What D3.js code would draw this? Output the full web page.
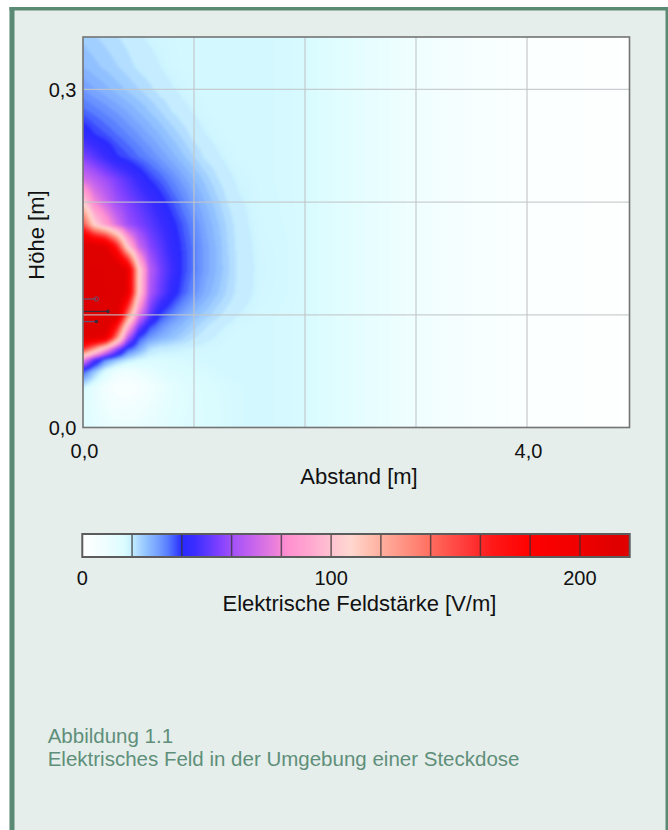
<!DOCTYPE html>
<html>
<head>
<meta charset="utf-8">
<script src="https://cdn.jsdelivr.net/npm/d3@7"></script>
<style>
  html, body { margin: 0; padding: 0; background: #ffffff; }
  svg { display: block; }
  text { font-family: "Liberation Sans", Arial, Helvetica, sans-serif; }
</style>
</head>
<body>
<svg id="chart" width="668" height="830"></svg>
<script>
// ---------- data ----------
// distance from the wall [m] (grid columns)
const distances = [0, 0.1, 0.2, 0.3, 0.4, 0.5, 0.6, 0.7, 0.8, 0.9, 1.0, 1.1, 1.2, 1.3, 1.4, 1.6, 2.0, 2.5, 3.0, 3.5, 4.0, 5.0];
// height above the floor [m] (grid rows, bottom to top)
const heights = [0, 0.02, 0.035, 0.05, 0.06, 0.07, 0.08, 0.09, 0.10, 0.12, 0.14, 0.16, 0.18, 0.20, 0.22, 0.24, 0.26, 0.28, 0.30, 0.32, 0.35];
// electric field strength [V/m], one row per height, one value per distance
const fieldStrength = [
  [15, 14, 12.5, 11.5, 11, 11.5, 12.5, 13.5, 14.5, 15.5, 16, 16.5, 17, 17.5, 17.8, 18, 17.5, 13, 9, 5, 2.5, 0.5],
  [15.5, 13, 10, 7.5, 7, 8.5, 10.5, 12.5, 14, 15, 16, 16.6, 17, 17.5, 17.8, 18, 17.5, 13, 9, 5, 2.5, 0.5],
  [18, 13, 8, 4, 3, 5, 8, 11, 13.5, 15, 16, 16.7, 17.2, 17.6, 17.8, 18, 17.5, 13, 9, 5, 2.5, 0.5],
  [38, 26, 17, 11, 9, 11, 13, 15, 16, 16.7, 17.2, 17.5, 17.8, 18, 18, 18, 17.5, 13, 9, 5, 2.5, 0.5],
  [80, 50, 33, 26, 21, 18, 17, 17, 17.3, 17.6, 17.8, 18, 18, 18, 18, 18, 17.5, 13, 9, 5, 2.5, 0.5],
  [160, 130, 95, 62, 38, 30, 22, 20, 19.5, 19, 18.5, 18.3, 18.2, 18, 18, 18, 17.5, 13, 9, 5, 2.5, 0.5],
  [215, 212, 205, 137, 68, 38.6, 31.4, 28.1, 25.8, 23.5, 21.2, 19.6, 18.9, 18.2, 18, 18, 17.5, 13, 9, 5, 2.5, 0.5],
  [240, 235, 228, 174, 98, 55.6, 38.3, 32.8, 28.8, 26.3, 23.8, 21.3, 19.6, 18.9, 18.2, 18, 17.5, 13, 9, 5, 2.5, 0.5],
  [250, 246, 240, 225, 137, 77, 52, 38.2, 33.6, 29.5, 26.3, 24.2, 21.8, 20, 19, 18, 17.5, 13, 9, 5, 2.5, 0.5],
  [258, 254, 248, 236, 205, 108, 63, 51.8, 42.7, 36.8, 32.3, 28.6, 25.6, 22.6, 20.2, 18.4, 17.5, 13, 9, 5, 2.5, 0.5],
  [255, 250, 245, 235, 205, 110, 65.7, 53.6, 45.6, 38.7, 34.3, 30.2, 27, 23.6, 20.4, 18.5, 17.5, 13, 9, 5, 2.5, 0.5],
  [230, 225, 215, 170, 105, 71, 56.7, 50, 43.3, 38.3, 34.2, 30.2, 26.8, 23.2, 20.2, 18.4, 17.5, 13, 9, 5, 2.5, 0.5],
  [150, 107, 89, 73.3, 60, 55.2, 50.5, 45.7, 41, 36.8, 32.8, 29, 25.8, 22.6, 19.8, 18.2, 17.5, 13, 9, 5, 2.5, 0.5],
  [105, 80, 70, 60, 55.3, 50.7, 46, 41.4, 37.4, 33.7, 30, 27, 23.9, 20.9, 19.3, 18.1, 17.5, 13, 9, 5, 2.5, 0.5],
  [72, 66, 60, 54.7, 49.5, 44.2, 39.4, 36.3, 33.1, 30, 27.1, 24.3, 21.4, 19.6, 18.7, 18, 17.5, 13, 9, 5, 2.5, 0.5],
  [55, 50, 45, 40, 37.6, 35.2, 32.9, 30.5, 28, 25.5, 23, 20.5, 19.4, 18.6, 18.1, 18, 17.5, 13, 9, 5, 2.5, 0.5],
  [43, 39.4, 37.3, 35.2, 33.1, 31, 28.9, 26.7, 24.4, 22.2, 20, 19.1, 18.4, 18, 18, 18, 17.5, 13, 9, 5, 2.5, 0.5],
  [36, 34.3, 32.6, 30.9, 29, 27, 25, 23, 21, 19.6, 18.9, 18.2, 18, 18, 18, 18, 17.5, 13, 9, 5, 2.5, 0.5],
  [31, 29.2, 27.7, 26.2, 24.6, 23.1, 21.5, 20, 19.2, 18.6, 18.2, 18, 18, 18, 18, 18, 17.5, 13, 9, 5, 2.5, 0.5],
  [27, 25.7, 24.5, 23.2, 21.9, 20.5, 19.7, 19, 18.4, 18.1, 18, 18, 18, 18, 18, 18, 17.5, 13, 9, 5, 2.5, 0.5],
  [24, 23, 22, 21, 20, 19.2, 18.6, 18.3, 18.1, 18, 18, 18, 18, 18, 18, 18, 17.5, 13, 9, 5, 2.5, 0.5]
];
// socket leads drawn at the wall: height [m], length [m], end style
const leadHeights = [0.114, 0.103, 0.094];
const leadLengths = [0.12, 0.225, 0.12];
const leadEnds = ["open", "dot", "dot"];

const xTickValues = [0, 4];
const yTickValues = [0, 0.3];
const xGridValues = [1, 2, 3, 4];
const yGridValues = [0.1, 0.2, 0.3];
const xDomain = [0, 4.92];
const yDomain = [0, 0.3465];

// colour map: value stops and colours
const colorStops = [0, 10, 17, 19, 21, 23, 26, 30, 34, 37, 40, 45, 50, 55, 60, 67, 75, 82, 92, 100, 108, 115, 125, 135, 145, 155, 165, 180, 200, 215, 300];
const colorRamp = ["#ffffff", "#eefeff", "#dafcff", "#cdf4ff", "#bce6ff", "#aad6ff", "#90c0ff", "#78a4ff", "#5a80ff", "#4258ff", "#2a2aff", "#3a2cff", "#5a38ff", "#8040ff", "#a050f8", "#c060f0", "#e078e0", "#ff8ed0", "#ffa8d0", "#ffc2d0", "#ffd8d0", "#ffc0b0", "#ffa090", "#ff8070", "#ff5a50", "#ff3838", "#ff1818", "#ff0000", "#ef0000", "#e00000", "#dc0000"];
const legendBreaks = [0, 20, 40, 60, 80, 100, 120, 140, 160, 180, 200, 220];
const legendTickValues = [0, 100, 200];

const xTitle = "Abstand [m]";
const yTitle = "Höhe [m]";
const legendTitle = "Elektrische Feldstärke [V/m]";
const captionLines = ["Abbildung 1.1", "Elektrisches Feld in der Umgebung einer Steckdose"];

// ---------- drawing ----------
const svg = d3.select("#chart");
const fmt = d3.formatLocale({decimal: ",", thousands: ".", grouping: [3], currency: ["", " €"]}).format(".1f");

const plot = {left: 83, right: 629.5, top: 37, bottom: 427.5};
const x = d3.scaleLinear().domain(xDomain).range([plot.left, plot.left + (xDomain[1] - xDomain[0]) * 111]);
const y = d3.scaleLinear().domain(yDomain).range([plot.bottom, plot.top]);
const color = d3.scaleLinear().domain(colorStops).range(colorRamp).interpolate(d3.interpolateRgb).clamp(true);

// panel
const green = "#5a8a74";
svg.append("rect").attr("x", 9.5).attr("y", 7).attr("width", 668 - 9.5).attr("height", 830 - 7).attr("fill", "#e5eeeb");
svg.append("rect").attr("x", 9.5).attr("y", 7).attr("width", 5).attr("height", 823).attr("fill", green);
svg.append("rect").attr("x", 9.5).attr("y", 7).attr("width", 668 - 9.5).attr("height", 3.5).attr("fill", green);
svg.append("rect").attr("x", 665.5).attr("y", 7).attr("width", 2.5).attr("height", 823).attr("fill", green);

// field raster
function clamp(v, a, b) { return Math.max(a, Math.min(b, v)); }
function fieldAt(xv, yv) {
  const i = clamp(d3.bisectRight(distances, xv) - 1, 0, distances.length - 2);
  const j = clamp(d3.bisectRight(heights, yv) - 1, 0, heights.length - 2);
  const tx = clamp((xv - distances[i]) / (distances[i + 1] - distances[i]), 0, 1);
  const ty = clamp((yv - heights[j]) / (heights[j + 1] - heights[j]), 0, 1);
  const r0 = fieldStrength[j], r1 = fieldStrength[j + 1];
  const a = r0[i] * (1 - tx) + r0[i + 1] * tx;
  const b = r1[i] * (1 - tx) + r1[i + 1] * tx;
  return a * (1 - ty) + b * ty;
}
function banded(v) {
  if (v >= 19 && v < 40) return Math.floor((v - 19) / 2) * 2 + 20;
  return v;
}
const lut = d3.range(0, 3001).map(k => d3.rgb(color(k / 10)));
const px0 = Math.round(plot.left), py0 = Math.round(plot.top);
const W = Math.round(plot.right) - px0, H = Math.round(plot.bottom) - py0;
const PAD = 12;
const big = document.createElement("canvas");
big.width = W + 2 * PAD; big.height = H + 2 * PAD;
const bctx = big.getContext("2d");
const img = bctx.createImageData(big.width, big.height);
for (let py = 0; py < big.height; py++) {
  const yv = y.invert(py0 - PAD + py + 0.5);
  for (let px = 0; px < big.width; px++) {
    const xv = x.invert(px0 - PAD + px + 0.5);
    const v = banded(fieldAt(xv, yv));
    const c = lut[clamp(Math.round(v * 10), 0, 3000)];
    const k = (py * big.width + px) * 4;
    img.data[k] = c.r; img.data[k + 1] = c.g; img.data[k + 2] = c.b; img.data[k + 3] = 255;
  }
}
bctx.putImageData(img, 0, 0);
const canvas = document.createElement("canvas");
canvas.width = W; canvas.height = H;
const ctx = canvas.getContext("2d");
ctx.filter = "blur(1.8px)";
ctx.drawImage(big, -PAD, -PAD);
svg.append("image").attr("x", px0).attr("y", py0).attr("width", W).attr("height", H)
  .attr("preserveAspectRatio", "none").attr("href", canvas.toDataURL());

// grid
const grid = svg.append("g").attr("stroke", "#c2c6c8").attr("stroke-opacity", 0.85).attr("stroke-width", 1.3);
grid.selectAll("line.v").data(xGridValues).join("line")
  .attr("x1", d => x(d)).attr("x2", d => x(d)).attr("y1", plot.top).attr("y2", plot.bottom);
grid.selectAll("line.h").data(yGridValues).join("line")
  .attr("x1", plot.left).attr("x2", plot.right).attr("y1", d => y(d)).attr("y2", d => y(d));

// socket leads
const leads = svg.append("g");
leadHeights.forEach((h, i) => {
  leads.append("line").attr("x1", x(0)).attr("x2", x(leadLengths[i])).attr("y1", y(h)).attr("y2", y(h))
    .attr("stroke", i === 1 ? "#3a2a3a" : "#6a5070").attr("stroke-width", 1.3);
  if (leadEnds[i] === "open") {
    leads.append("circle").attr("cx", x(leadLengths[i])).attr("cy", y(h)).attr("r", 2.2)
      .attr("fill", "none").attr("stroke", "#6a5070").attr("stroke-width", 1);
  } else {
    leads.append("circle").attr("cx", x(leadLengths[i])).attr("cy", y(h)).attr("r", 1.8).attr("fill", "#3a2a3a");
  }
});

// frame
svg.append("rect").attr("x", plot.left).attr("y", plot.top)
  .attr("width", plot.right - plot.left).attr("height", plot.bottom - plot.top)
  .attr("fill", "none").attr("stroke", "#747474").attr("stroke-width", 1.6);

// tick labels
svg.append("g").selectAll("text").data(yTickValues).join("text")
  .attr("x", 76.5).attr("y", d => y(d) + 7.3).attr("text-anchor", "end")
  .attr("font-size", 20).attr("fill", "#111").text(d => fmt(d));
svg.append("g").selectAll("text").data(xTickValues).join("text")
  .attr("x", d => x(d) + 1.5).attr("y", 458).attr("text-anchor", "middle")
  .attr("font-size", 20).attr("fill", "#111").text(d => fmt(d));

// axis titles
svg.append("text").attr("x", 359).attr("y", 483.5).attr("text-anchor", "middle")
  .attr("font-size", 22).attr("fill", "#111").text(xTitle);
svg.append("text").attr("transform", "translate(44,235) rotate(-90)").attr("text-anchor", "middle")
  .attr("font-size", 22).attr("fill", "#111").text(yTitle);

// colour bar
const lg = {left: 82.3, right: 629.7, top: 534, bottom: 557};
const lx = d3.scaleLinear().domain([legendBreaks[0], legendBreaks[legendBreaks.length - 1]]).range([lg.left, lg.right]);
const defs = svg.append("defs");
const grad = defs.append("linearGradient").attr("id", "lgrad").attr("x1", "0%").attr("x2", "100%").attr("y1", "0%").attr("y2", "0%");
const gMax = legendBreaks[legendBreaks.length - 1];
grad.selectAll("stop").data(d3.range(0, gMax + 1, 1)).join("stop")
  .attr("offset", d => (d / gMax * 100) + "%").attr("stop-color", d => color(d));
svg.append("rect").attr("x", lg.left).attr("y", lg.top).attr("width", lg.right - lg.left).attr("height", lg.bottom - lg.top)
  .attr("fill", "url(#lgrad)");
svg.append("g").selectAll("line").data(legendBreaks.slice(1, -1)).join("line")
  .attr("x1", d => lx(d)).attr("x2", d => lx(d)).attr("y1", lg.top).attr("y2", lg.bottom)
  .attr("stroke", "#333").attr("stroke-opacity", 0.75).attr("stroke-width", 1.5);
svg.append("rect").attr("x", lg.left).attr("y", lg.top).attr("width", lg.right - lg.left).attr("height", lg.bottom - lg.top)
  .attr("fill", "none").attr("stroke", "#5c5c5c").attr("stroke-width", 2);
svg.append("g").selectAll("text").data(legendTickValues).join("text")
  .attr("x", d => lx(d)).attr("y", 584.5).attr("text-anchor", "middle")
  .attr("font-size", 20).attr("fill", "#111").text(d => d);
svg.append("text").attr("x", 359.5).attr("y", 610.5).attr("text-anchor", "middle")
  .attr("font-size", 22).attr("fill", "#111").text(legendTitle);

// caption
svg.append("g").selectAll("text").data(captionLines).join("text")
  .attr("x", 47.7).attr("y", (d, i) => 742.7 + i * 23.4)
  .attr("font-size", 20.5).attr("fill", "#5f8f7a").text(d => d);
</script>
</body>
</html>
